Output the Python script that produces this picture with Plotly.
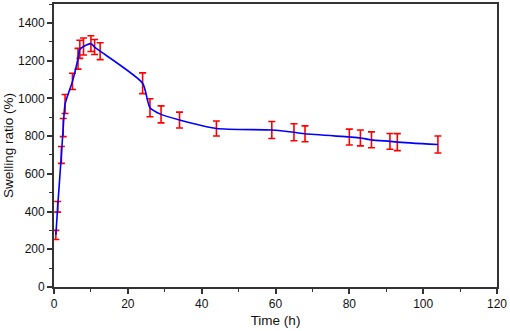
import plotly.graph_objects as go

time_h = [0.5, 1, 2, 2.5, 3, 5, 6.5, 7, 8, 10, 11, 12.5, 24, 26, 29, 34, 44,
          59, 65, 68, 80, 83, 86, 91, 93, 104]
swelling = [276, 425, 700, 845, 970, 1090, 1210, 1260, 1275, 1290, 1272, 1250,
            1080, 950, 915, 885, 840, 832, 820, 812, 795, 790, 780, 772, 768, 755]
error = [24, 28, 45, 48, 50, 43, 55, 48, 45, 42, 40, 45, 55, 48, 45, 42, 40,
         45, 45, 42, 42, 42, 42, 42, 45, 45]

FONT = "Liberation Sans, Arial, sans-serif"

fig = go.Figure()
fig.add_trace(go.Scatter(
    x=time_h, y=swelling, mode="lines",
    line=dict(color="#0000ff", width=1.6, shape="spline", smoothing=0.6),
    error_y=dict(type="data", array=error, visible=True, color="#ff0000",
                 thickness=1.6, width=3.5),
    showlegend=False,
))

axis_common = dict(
    showline=True, linecolor="#333333", linewidth=1.8, mirror=True,
    ticks="outside", ticklen=5, tickwidth=1.5, tickcolor="#333333",
    showgrid=False, zeroline=False,
    tickfont=dict(family=FONT, size=12, color="#111111"),
)

fig.update_xaxes(range=[0, 120], dtick=20,
                 minor=dict(dtick=10, ticks="outside", ticklen=3, tickwidth=1.2, tickcolor="#333333"),
                 title=dict(text="Time (h)", font=dict(family=FONT, size=13.5, color="#111111"),
                            standoff=5),
                 **axis_common)
fig.update_yaxes(range=[0, 1500], dtick=200, tick0=0,
                 minor=dict(dtick=100, ticks="outside", ticklen=3, tickwidth=1.2, tickcolor="#333333"),
                 title=dict(text="Swelling ratio (%)", font=dict(family=FONT, size=13.5, color="#111111"),
                            standoff=1),
                 **axis_common)

fig.update_layout(
    width=510, height=331,
    margin=dict(l=54, r=13, t=4, b=44, autoexpand=False),
    plot_bgcolor="white", paper_bgcolor="white",
)

fig.write_html("out.html", config={"displayModeBar": False},
               post_script="document.body.style.margin='0';document.body.style.padding='0';")
